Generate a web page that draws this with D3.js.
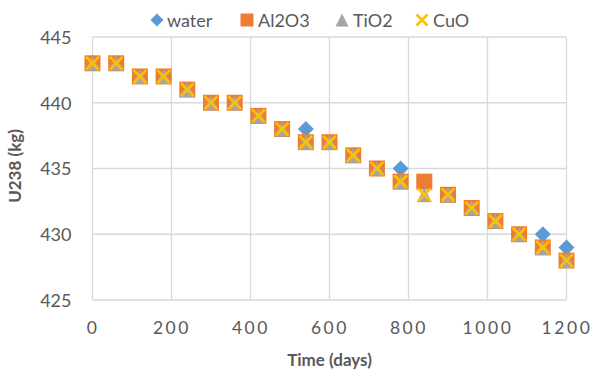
<!DOCTYPE html>
<html>
<head>
<meta charset="utf-8">
<script src="https://cdn.jsdelivr.net/npm/d3@7/dist/d3.min.js"></script>
<style>
  html, body { margin: 0; padding: 0; background: #fff; }
  svg { display: block; }
  text { font-family: Lato, "Open Sans", sans-serif; }
</style>
</head>
<body>
<svg id="chart" width="593" height="376"></svg>
<script>
const time = [0, 60, 120, 180, 240, 300, 360, 420, 480, 540, 600, 660, 720, 780, 840, 900, 960, 1020, 1080, 1140, 1200];
const water = [443, 443, 442, 442, 441, 440, 440, 439, 438, 438, 437, 436, 435, 435, 434, 433, 432, 431, 430, 430, 429];
const al2o3 = [443, 443, 442, 442, 441, 440, 440, 439, 438, 437, 437, 436, 435, 434, 434, 433, 432, 431, 430, 429, 428];
const tio2  = [443, 443, 442, 442, 441, 440, 440, 439, 438, 437, 437, 436, 435, 434, 433, 433, 432, 431, 430, 429, 428];
const cuo   = [443, 443, 442, 442, 441, 440, 440, 439, 438, 437, 437, 436, 435, 434, 433, 433, 432, 431, 430, 429, 428];
const xTicks = [0, 200, 400, 600, 800, 1000, 1200];
const yTicks = [425, 430, 435, 440, 445];
const seriesNames = ["water", "Al2O3", "TiO2", "CuO"];

const svg = d3.select("#chart");
const pL = 92.5, pR = 566.5, pT = 37, pB = 300;
const x = d3.scaleLinear().domain([0, 1200]).range([pL, pR]);
const y = d3.scaleLinear().domain([425, 445]).range([pB, pT]);

const grid = "#d9d9d9";
const textColor = "#595959";

// gridlines
svg.append("g").selectAll("line").data(yTicks).join("line")
  .attr("x1", pL).attr("x2", pR)
  .attr("y1", d => y(d)).attr("y2", d => y(d))
  .attr("stroke", grid).attr("stroke-width", 1.3);
svg.append("g").selectAll("line").data(xTicks).join("line")
  .attr("y1", pT).attr("y2", pB)
  .attr("x1", d => x(d)).attr("x2", d => x(d))
  .attr("stroke", grid).attr("stroke-width", 1.3);

// axes (labels only)
const yAxis = d3.axisLeft(y).tickValues(yTicks).tickSize(0).tickPadding(21).tickFormat(d3.format("d"));
svg.append("g").attr("transform", `translate(${pL},0)`).call(yAxis)
  .call(g => g.select(".domain").remove())
  .call(g => g.selectAll("text").attr("font-size", 18).attr("fill", textColor)
    .attr("font-family", "Lato, sans-serif").attr("dy", "0.36em"));

const xAxis = d3.axisBottom(x).tickValues(xTicks).tickSize(0).tickPadding(22).tickFormat(d3.format("d"));
svg.append("g").attr("transform", `translate(0,${pB})`).call(xAxis)
  .call(g => g.select(".domain").remove())
  .call(g => g.selectAll("text").attr("font-size", 17.5).attr("fill", textColor)
    .attr("font-family", "Lato, sans-serif").attr("letter-spacing", "2.6px"));

// axis titles
svg.append("text").attr("x", (pL + pR) / 2).attr("y", 366)
  .attr("text-anchor", "middle").attr("font-size", 17).attr("font-weight", "bold")
  .attr("fill", textColor).text("Time (days)");
svg.append("text").attr("transform", "translate(21,166) rotate(-90)")
  .attr("text-anchor", "middle").attr("font-size", 17).attr("font-weight", "bold")
  .attr("fill", textColor).text("U238 (kg)");

// marker drawers
const colors = ["#5b9bd5", "#ed7d31", "#a5a5a5", "#ffc000"];
function drawMarker(g, type, s) {
  const h = s / 2;
  if (type === 0) {
    g.append("path").attr("d", `M0,${-h}L${h},0L0,${h}L${-h},0Z`).attr("fill", colors[0]);
  } else if (type === 1) {
    g.append("rect").attr("x", -h).attr("y", -h).attr("width", s).attr("height", s)
      .attr("fill", colors[1]);
  } else if (type === 2) {
    g.append("path").attr("d", `M0,${-h}L${h},${h}L${-h},${h}Z`).attr("fill", colors[2]);
  } else {
    const k = h * 0.85;
    g.append("path").attr("d", `M${-k},${-k}L${k},${k}M${k},${-k}L${-k},${k}`)
      .attr("stroke", colors[3]).attr("stroke-width", 2.6).attr("fill", "none");
  }
}

const allSeries = [water, al2o3, tio2, cuo];
const sizes = [16, 16, 15, 15];
allSeries.forEach((vals, si) => {
  const g = svg.append("g");
  vals.forEach((v, i) => {
    const m = g.append("g").attr("transform", `translate(${x(time[i])},${y(v)})`);
    drawMarker(m, si, sizes[si]);
  });
});

// legend
const legendItems = [
  { cx: 157, tx: 167 },
  { cx: 247, tx: 258 },
  { cx: 342, tx: 353 },
  { cx: 422, tx: 433 }
];
seriesNames.forEach((name, i) => {
  const m = svg.append("g").attr("transform", `translate(${legendItems[i].cx},20)`);
  drawMarker(m, i, 13);
  svg.append("text").attr("x", legendItems[i].tx).attr("y", 27)
    .attr("font-size", 18).attr("fill", textColor).text(name);
});
</script>
</body>
</html>
